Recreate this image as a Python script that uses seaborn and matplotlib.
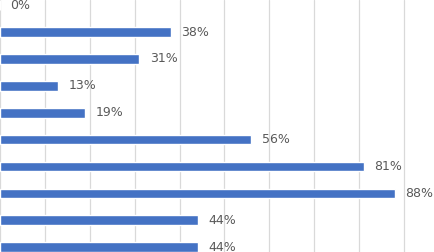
import matplotlib
matplotlib.use("Agg")
import matplotlib.pyplot as plt
import seaborn as sns
import pandas as pd

# values (share of respondents), top to bottom
items = ["Item 1", "Item 2", "Item 3", "Item 4", "Item 5",
         "Item 6", "Item 7", "Item 8", "Item 9", "Item 10"]
shares = [0.00, 0.38, 0.31, 0.13, 0.19, 0.56, 0.81, 0.88, 0.44, 0.44]
grid_ticks = [0.0, 0.1, 0.2, 0.3, 0.4, 0.5, 0.6, 0.7, 0.8, 0.9]

df = pd.DataFrame({"item": items, "share": shares})

sns.set_style("white")
plt.rcParams["font.family"] = ["DejaVu Sans"]

fig = plt.figure(figsize=(4.35, 2.52), dpi=100)
ax = fig.add_axes([0, 0, 1, 1])

bar_h = 0.36
sns.barplot(data=df, x="share", y="item", orient="h", color="#4472C4",
            width=bar_h, saturation=1, ax=ax, zorder=3)
# seaborn shrinks bars a little; set the height explicitly
for p in ax.patches:
    yc = p.get_y() + p.get_height() / 2
    p.set_height(bar_h)
    p.set_y(yc - bar_h / 2)

# percentage labels at the end of each bar
ax.bar_label(ax.containers[0], labels=[f"{v:.0%}" for v in shares],
             padding=7.5, fontsize=9, color="#595959")

ax.set_xlim(0, 0.969)
ax.set_ylim(9.18, -0.19)
ax.set_xticks(grid_ticks)
ax.grid(axis="x", color="#d9d9d9", linewidth=0.9, zorder=0)
ax.set_axisbelow(True)
ax.tick_params(left=False, bottom=False, labelleft=False, labelbottom=False)
ax.set_xlabel("")
ax.set_ylabel("")
for s in ax.spines.values():
    s.set_visible(False)

fig.savefig("out.png", dpi=100)
